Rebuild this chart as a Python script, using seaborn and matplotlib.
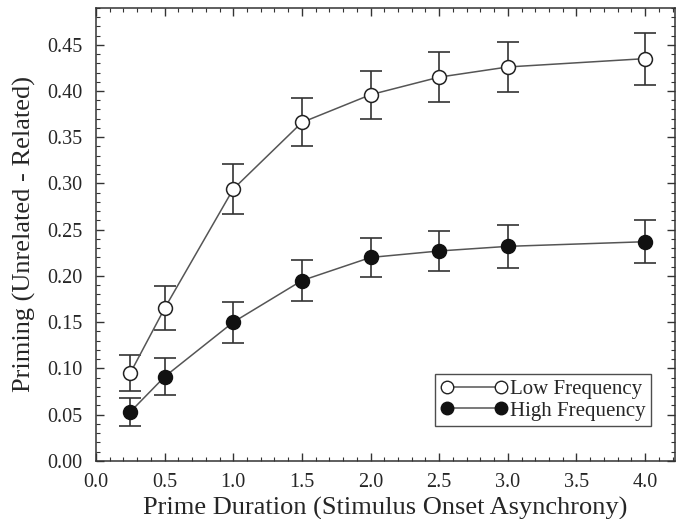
import numpy as np
import pandas as pd
import matplotlib
matplotlib.use("Agg")
import matplotlib.pyplot as plt
import seaborn as sns
from matplotlib.ticker import MultipleLocator

soa = [0.25, 0.5, 1.0, 1.5, 2.0, 2.5, 3.0, 4.0]
low_freq = [0.095, 0.165, 0.294, 0.366, 0.396, 0.415, 0.426, 0.435]
low_err = [0.019, 0.024, 0.027, 0.026, 0.026, 0.027, 0.027, 0.028]
high_freq = [0.053, 0.091, 0.150, 0.195, 0.220, 0.227, 0.232, 0.237]
high_err = [0.015, 0.020, 0.022, 0.022, 0.021, 0.022, 0.023, 0.023]

df = pd.DataFrame({
    "soa": soa * 2,
    "priming": low_freq + high_freq,
    "group": ["Low Frequency"] * len(soa) + ["High Frequency"] * len(soa),
})

sns.set_style("ticks")
plt.rcParams["font.family"] = ["Liberation Serif", "DejaVu Serif"]

fig, ax = plt.subplots(figsize=(6.76, 5.19), dpi=100)
fig.subplots_adjust(left=0.142, right=0.999, top=0.985, bottom=0.112)

line_col = "#555555"
# error bars first so the markers sit on top
ax.errorbar(soa, low_freq, yerr=low_err, fmt="none", ecolor="#333333",
            elinewidth=1.2, capsize=8, capthick=1.2, zorder=1)
ax.errorbar(soa, high_freq, yerr=high_err, fmt="none", ecolor="#333333",
            elinewidth=1.2, capsize=8, capthick=1.2, zorder=1)

sns.lineplot(data=df[df.group == "Low Frequency"], x="soa", y="priming",
             color=line_col, linewidth=1.1, marker="o", markersize=10,
             markerfacecolor="white", markeredgecolor="#222222",
             markeredgewidth=1.1, ax=ax, zorder=3, legend=False)
sns.lineplot(data=df[df.group == "High Frequency"], x="soa", y="priming",
             color=line_col, linewidth=1.1, marker="o", markersize=10,
             markerfacecolor="#111111", markeredgecolor="#111111",
             markeredgewidth=1.1, ax=ax, zorder=3, legend=False)

ax.set_xlim(0, 4.22)
ax.set_ylim(0, 0.49)
ax.xaxis.set_minor_locator(MultipleLocator(0.1))
ax.yaxis.set_minor_locator(MultipleLocator(0.01))
xt = np.arange(0, 4.01, 0.5)
yt = np.arange(0, 0.451, 0.05)
ax.set_xticks(xt)
ax.set_xticklabels([f"{v:.1f}" for v in xt])
ax.set_yticks(yt)
ax.set_yticklabels([f"{v:.2f}" for v in yt])
ax.tick_params(which="both", direction="in", top=True, right=True,
               labelsize=14.5, color="#333333")
ax.tick_params(which="major", length=6, width=1)
ax.tick_params(axis="y", which="major", pad=10)
ax.tick_params(axis="x", which="major", pad=9)
ax.tick_params(which="minor", length=3, width=0.8)
for s in ax.spines.values():
    s.set_linewidth(1.1)
    s.set_color("#333333")

ax.set_xlabel("Prime Duration (Stimulus Onset Asynchrony)", fontsize=19,
              labelpad=3)
ax.set_ylabel("Priming (Unrelated - Related)", fontsize=19, labelpad=8)

h_low = plt.Line2D([], [], color=line_col, linewidth=1.1, marker="o",
                   markersize=9, markerfacecolor="white",
                   markeredgecolor="#222222")
h_high = plt.Line2D([], [], color=line_col, linewidth=1.1, marker="o",
                    markersize=9, markerfacecolor="#111111",
                    markeredgecolor="#111111")
leg = ax.legend([h_low, h_high], ["Low Frequency", "High Frequency"],
                loc="lower right", bbox_to_anchor=(0.958, 0.077),
                numpoints=2, handlelength=3.2, handletextpad=0.15,
                fontsize=15, frameon=True, fancybox=False,
                borderpad=0.25, labelspacing=0.1, borderaxespad=0)
leg.get_frame().set_edgecolor("#222222")
leg.get_frame().set_linewidth(1.0)

plt.savefig("out.png", dpi=100)
